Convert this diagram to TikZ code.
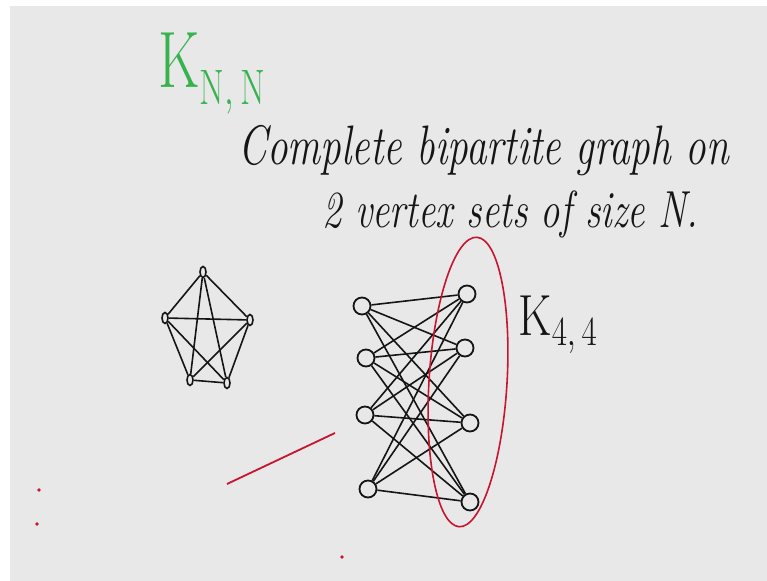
\documentclass[tikz,border=0pt]{standalone}
\usepackage{tikz}
\usetikzlibrary{shapes.geometric}
\definecolor{board}{HTML}{E8E8E8}
\definecolor{ink}{HTML}{151515}
\definecolor{pen}{HTML}{C8142E}
\definecolor{chalk}{HTML}{36B24E}

\begin{document}
\begin{tikzpicture}[
  x=0.5pt,y=-0.5pt,
  vtx/.style={circle,draw=ink,line width=0.9pt,inner sep=0pt,minimum size=8.5pt},
  dot/.style={ellipse,draw=ink,line width=0.8pt,inner sep=0pt,minimum width=3pt,minimum height=5.5pt},
  edge/.style={draw=ink,line width=0.8pt},
  hand/.style={text=ink,inner sep=0pt,anchor=base west,font=\itshape\fontsize{#1}{23}\selectfont},
  hand/.default=19.3]

% board
\useasboundingbox (0,0) rectangle (767,581);
\fill[white] (0,0) rectangle (767,581);
\fill[board] (10,6) rectangle (767,581);

% titles
\node[inner sep=0pt,anchor=base west,text=chalk,font=\fontsize{40}{44}\selectfont] (knn) at (158,88) {\scalebox{0.72}[1]{K$_{\mathrm{N,\,N}}$}};
\node[hand=20.6] (line1) at (238,165) {\scalebox{1}[1.35]{Complete bipartite graph on}};
\node[hand] (line2) at (322,228) {\scalebox{1}[1.35]{2 vertex sets of size N.}};
\node[inner sep=0pt,anchor=base west,text=ink,font=\fontsize{29}{32}\selectfont] (k44) at (518,336) {\scalebox{0.8}[1]{K$_{4,\,4}$}};

% complete graph on five vertices
\foreach \n/\x/\y in {a/203/272, b/165/318, c/250/320, d/190/380, e/227/383}
  \node[dot] (p\n) at (\x,\y) {};
\foreach \u/\v in {a/b,a/c,a/d,a/e,b/c,b/d,b/e,c/d,c/e,d/e}
  \draw[edge] (p\u) -- (p\v);

% bipartite graph K_{4,4}
\foreach \i/\x/\y in {1/362/306, 2/366/358, 3/365/415, 4/368/489}
  \node[vtx] (l\i) at (\x,\y) {};
\foreach \i/\x/\y in {1/467/294, 2/465/348, 3/470/423, 4/470/502}
  \node[vtx] (r\i) at (\x,\y) {};
\foreach \i in {1,...,4}
  \foreach \j in {1,...,4}
    \draw[edge] (l\i) -- (r\j);

% red pen marks
\draw[pen,line width=0.8pt] (468,382) ellipse [x radius=39,y radius=145,rotate=-3.5];
\coordinate (s0) at (227,484);
\coordinate (s1) at (335,433);
\draw[pen,line width=0.9pt] (s0) -- (s1);
\foreach \x/\y in {39/490, 37/524, 342/557}
  \fill[pen] (\x,\y) circle (0.9pt);
\end{tikzpicture}
\end{document}
